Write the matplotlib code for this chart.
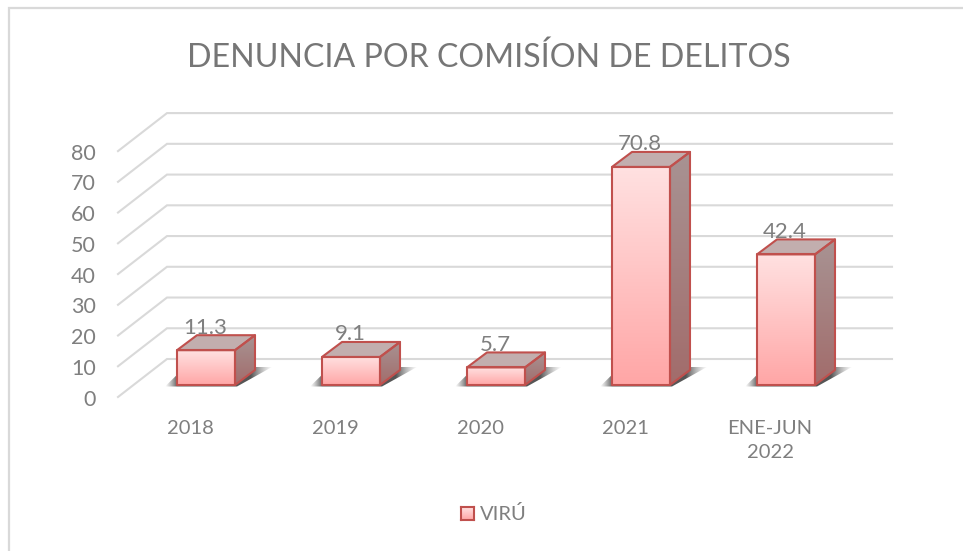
import matplotlib
matplotlib.use('Agg')
import matplotlib.pyplot as plt
import numpy as np
from matplotlib.colors import LinearSegmentedColormap
from matplotlib.patches import Polygon

plt.rcParams['font.family'] = ['Lato', 'DejaVu Sans']

title = 'DENUNCIA POR COMISÍON DE DELITOS'
categories = ['2018', '2019', '2020', '2021', 'ENE-JUN\n2022']
values = [11.3, 9.1, 5.7, 70.8, 42.4]
y_ticks = [0, 10, 20, 30, 40, 50, 60, 70, 80]
legend_label = 'VIRÚ'

W, H = 963, 551
EDGE = '#c0504d'
GRID = '#d9d9d9'
TEXT = '#7f7f7f'

# one category = 145 px, one value unit = 3.08 px, y=0 of the bar plane at pixel row 385
PX_X = 145.0
PX_Y = 3.08
X0 = 206.0
Y0 = 385.0
bar_w = 58 / PX_X
dx = 20 / PX_X   # bar depth
dy = 15 / PX_Y

front_cmap = LinearSegmentedColormap.from_list('front', ['#ffa6a6', '#ffc4c4', '#ffe1e1'])
side_cmap = LinearSegmentedColormap.from_list('side', ['#a26c6b', '#a89393'])
shadow_cmap = LinearSegmentedColormap.from_list(
    'shadow', [(0, (0.5, 0.5, 0.5, 0)), (0.11, (0.35, 0.35, 0.35, 0.95)),
               (0.8, (0.3, 0.3, 0.3, 0.95)), (1, (0.6, 0.6, 0.6, 0))])

fig = plt.figure(figsize=(W / 100, H / 100), dpi=100)
ax = fig.add_axes([0, 0, 1, 1])
xlim = ((0 - X0) / PX_X, (W - X0) / PX_X)
ylim = ((Y0 - H) / PX_Y, Y0 / PX_Y)
ax.axis('off')


def gradient(poly_pts, cmap, zorder, horizontal=False):
    pts = np.array(poly_pts)
    grad = np.linspace(0, 1, 128)
    grad = grad.reshape(1, -1) if horizontal else grad.reshape(-1, 1)
    im = ax.imshow(grad, cmap=cmap, aspect='auto', origin='lower', zorder=zorder,
                   extent=(pts[:, 0].min(), pts[:, 0].max(), pts[:, 1].min(), pts[:, 1].max()))
    clip = Polygon(pts, transform=ax.transData)
    im.set_clip_path(clip)


# chart frame, only the left and top edges show
ax.plot([9 / W, 9 / W, 1], [0, 1 - 8 / H, 1 - 8 / H], transform=ax.transAxes, color=GRID, lw=1.6,
        solid_joinstyle='miter', clip_on=False)

# walls: gridlines on the back wall and on the left side
back_dx = 49 / PX_X
back_dy = 38 / PX_Y
floor_y = -12 / PX_Y
left_x = (118 - X0) / PX_X
right_x = (892 - X0) / PX_X
for t in y_ticks:
    y = floor_y + t * 0.998
    ax.plot([left_x, left_x + back_dx, right_x], [y, y + back_dy, y + back_dy],
            color=GRID, lw=1.5, zorder=1, solid_joinstyle='miter')
    ax.text(left_x - 22 / PX_X, y - 2.5 / PX_Y, str(t), ha='right', va='center', color=TEXT, fontsize=15.5)

# bars
for i, v in enumerate(values):
    l, r = i - bar_w / 2, i + bar_w / 2
    sh = [(l - 12 / PX_X, -1.5 / PX_Y), (r + 2 / PX_X, -1.5 / PX_Y), (r + 37 / PX_X, 18 / PX_Y), (l + 8 / PX_X, 18 / PX_Y)]
    gradient(sh, shadow_cmap, 2, horizontal=True)
    front = [(l, 0), (r, 0), (r, v), (l, v)]
    side = [(r, 0), (r + dx, dy), (r + dx, v + dy), (r, v)]
    top = [(l, v), (r, v), (r + dx, v + dy), (l + dx, v + dy)]
    gradient(front, front_cmap, 3)
    gradient(side, side_cmap, 3)
    ax.add_patch(Polygon(top, fc='#c2aeae', ec='none', zorder=3))
    for pts in (side, top, front):
        ax.add_patch(Polygon(pts, fill=False, ec=EDGE, lw=1.5, zorder=4, joinstyle='round'))
    ax.text(i - 1 / PX_X, v + dy + 7.5 / PX_Y, f'{v}', ha='center', va='center', color=TEXT, fontsize=16, zorder=5)
    ax.text(i - 16 / PX_X, -35 / PX_Y, categories[i], ha='center', va='top',
            color=TEXT, fontsize=14.5, linespacing=1.48)

ax.set_xlim(xlim)
ax.set_ylim(ylim)

fig.text(489 / W, 1 - 58 / H, title, ha='center', va='center', color='#767676', fontsize=23.1)

# legend
leg_x, leg_y, leg_s = 461 / W, 1 - 520 / H, 13
leg = fig.add_axes([leg_x, leg_y, leg_s / W, leg_s / H])
leg.imshow(np.linspace(0, 1, 32).reshape(-1, 1), cmap=front_cmap, aspect='auto', origin='lower')
leg.set_xticks([])
leg.set_yticks([])
for s in leg.spines.values():
    s.set_color(EDGE)
    s.set_linewidth(1.5)
fig.text(480 / W, 1 - 514 / H, legend_label, ha='left', va='center', color=TEXT, fontsize=14.5)

fig.savefig('out.png', dpi=100)
